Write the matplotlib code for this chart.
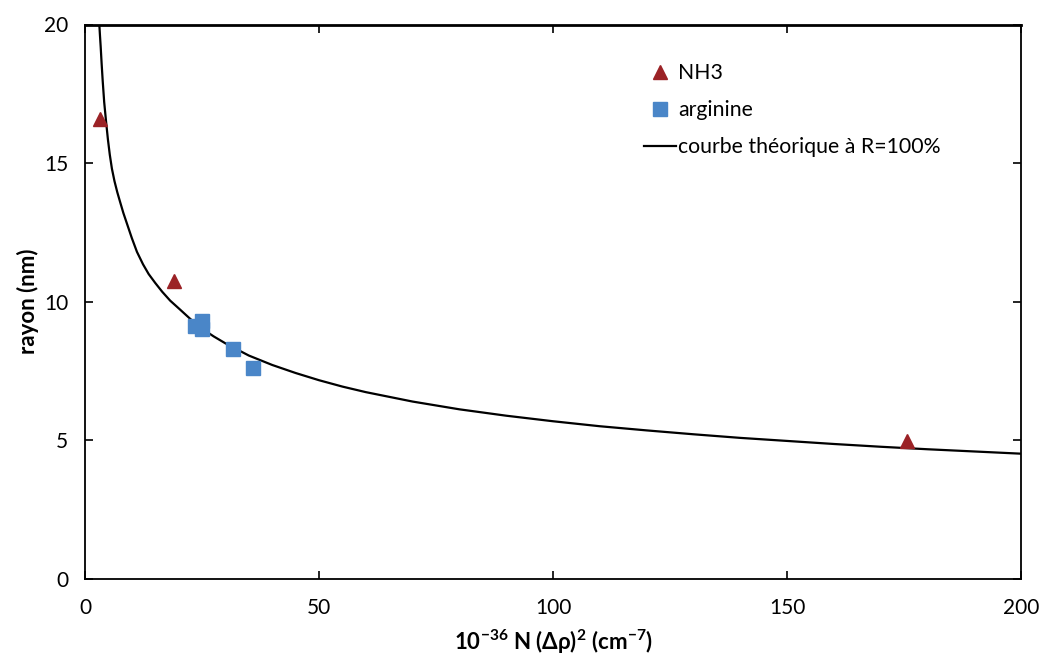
import matplotlib
matplotlib.use("Agg")
import matplotlib.pyplot as plt

plt.rcParams['font.family'] = ['Lato', 'DejaVu Sans']
plt.rcParams['mathtext.fontset'] = 'custom'
plt.rcParams['mathtext.rm'] = 'Lato:bold'
plt.rcParams['mathtext.bf'] = 'Lato:bold'
plt.rcParams['mathtext.default'] = 'rm'

# NH3 data (triangles)
nh3_x = [3.1, 19.1, 175.6]
nh3_y = [16.6, 10.74, 4.99]

# arginine data (squares)
arg_x = [23.5, 25.0, 25.0, 31.7, 35.8]
arg_y = [9.12, 9.32, 9.03, 8.30, 7.60]

# theoretical curve at R=100%
curve_x = [2.9, 3.06, 3.2, 3.35, 3.55, 3.78, 4.1, 4.5, 4.9, 5.3, 5.75, 6.3, 6.9,
           7.5, 8.2, 9.0, 10.0, 11.1, 12.4, 13.6, 15.0, 16.5, 18.2, 20.3, 22.5,
           25.0, 27.5, 30.0, 35.0, 40.0, 45.0, 50.0, 55.0, 60.0, 70.0, 80.0, 90.0,
           100.0, 110.0, 120.0, 130.0, 140.0, 150.0, 160.0, 170.0, 180.0, 190.0, 200.0]
curve_y = [20.6, 20.0, 19.6, 19.2, 18.6, 17.97, 17.2, 16.5, 15.85, 15.3, 14.8, 14.35, 13.95,
           13.6, 13.2, 12.8, 12.3, 11.8, 11.35, 11.0, 10.68, 10.36, 10.04, 9.72, 9.38,
           9.03, 8.75, 8.50, 8.06, 7.72, 7.43, 7.17, 6.94, 6.74, 6.40, 6.12, 5.89,
           5.69, 5.51, 5.36, 5.22, 5.09, 4.98, 4.87, 4.77, 4.68, 4.60, 4.52]

fig = plt.figure(figsize=(10.39, 6.58), dpi=100)
ax = fig.add_axes([85/1039, 1-579/658, (1021-85)/1039, (579-24.5)/658])

ax.plot(nh3_x, nh3_y, linestyle='none', marker='^', markersize=10,
        color='#9B2226', markeredgecolor='#9B2226', label='NH3', zorder=3)
ax.plot(arg_x, arg_y, linestyle='none', marker='s', markersize=9.5,
        color='#4A86C8', markeredgecolor='#4A86C8', label='arginine', zorder=3)
ax.plot(curve_x, curve_y, color='black', linewidth=1.6,
        label='courbe théorique à R=100%', zorder=2)

ax.set_xlim(0, 200)
ax.set_ylim(0, 20)
ax.set_xticks([0, 50, 100, 150, 200])
ax.set_yticks([0, 5, 10, 15, 20])
ax.tick_params(direction='in', length=6, width=1.2, labelsize=15,
               top=True, right=True)
ax.tick_params(axis='y', pad=12)
ax.tick_params(axis='x', pad=14)
for s in ax.spines.values():
    s.set_linewidth(1.3)
ax.spines['top'].set_linewidth(2)

ax.set_ylabel('rayon (nm)', fontsize=16, fontweight='bold', labelpad=4)
ax.set_xlabel(r'10$^{-36}$ N (Δρ)$^{2}$ (cm$^{-7}$)', fontsize=16,
              fontweight='bold', labelpad=7)

leg = ax.legend(loc='upper left', bbox_to_anchor=(0.588, 0.945), frameon=False,
                fontsize=15.3, handlelength=1.5, handletextpad=0.1,
                labelspacing=0.8, borderaxespad=0)

fig.savefig('out.png', dpi=100)
